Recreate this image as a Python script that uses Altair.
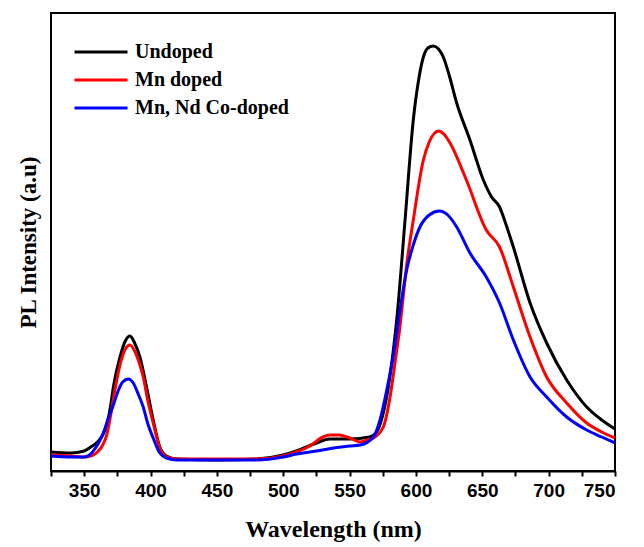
import altair as alt
import pandas as pd

# Wavelength (nm) / PL intensity (a.u.)
wl_undoped = [325, 340, 350, 355, 360, 364, 367, 370, 372, 377, 381, 384.5, 388, 392, 397, 402, 407, 412, 420,
              450, 480, 500, 510, 525, 535, 550, 565, 570.4, 575.4, 579.2, 583, 585.5, 591.8, 598, 602,
              605.6, 609, 613, 617, 620.6, 625, 630.7, 640.7, 650.8, 657, 663, 668, 673.4, 686, 698.5,
              713.6, 728.7, 740, 750]
pl_undoped = [19, 18, 20, 24, 29, 36, 46, 66, 84, 114, 130, 135, 128, 114, 84, 51, 24, 15, 12,
              11, 12, 16, 20, 28, 32, 32, 34, 39, 58, 84, 121, 151, 251, 351, 391,
              414, 423, 425, 422, 414, 396, 368, 331, 291, 274, 264, 246, 224, 168, 128,
              91, 64, 51, 42]

wl_mn = [325, 340, 350, 355, 360, 364, 367, 370, 372, 377, 381, 384.5, 388, 392, 394.5, 398, 402, 407, 412, 420,
         450, 480, 500, 510, 520, 530, 535, 542, 550, 558, 563, 568, 575.4, 580.5, 584.2, 588, 593, 598,
         605.6, 610, 617, 621, 625.7, 638, 653, 663, 673.4, 686, 698.5, 713.6, 728.7, 740, 750]
pl_mn = [16, 15, 14, 15, 19, 26, 36, 56, 72, 106, 122, 126, 120, 106, 94, 70, 48, 23, 14, 12,
         12, 12, 15, 19, 25, 34, 36, 36, 33, 29, 31, 33, 44, 74, 108, 145, 206, 251,
         311, 329, 340, 337, 328, 291, 241, 224, 184, 134, 94, 68, 48, 39, 33]

wl_co = [325, 340, 350, 354, 358, 362, 365, 368, 372, 375, 379, 383.3, 387, 391, 394.5, 398, 402, 407,
         412, 420, 450, 480, 500, 510, 525, 538, 550, 558, 568, 572.9, 578, 583, 588, 593, 598, 603,
         610, 617.6, 624, 630.7, 640.7, 653, 663, 673.4, 686, 698.5, 713.6, 728.7, 740, 750]
pl_co = [15, 14, 14, 16, 22, 31, 40, 52, 66, 78, 89, 92, 88, 76, 64, 47, 33, 18,
         13, 11, 11, 11, 14, 17, 20, 23, 25, 26, 34, 51, 81, 116, 161, 201, 226, 244,
         256, 260, 256, 244, 218, 194, 168, 131, 94, 74, 54, 41, 34, 28]

series = ["Undoped", "Mn doped", "Mn, Nd Co-doped"]
colors = ["#000000", "#ff0000", "#0000ff"]

rows = []
for name, xs, ys in [(series[0], wl_undoped, pl_undoped),
                     (series[1], wl_mn, pl_mn),
                     (series[2], wl_co, pl_co)]:
    for i, (x, y) in enumerate(zip(xs, ys)):
        rows.append({"Wavelength": x, "PL": y, "Sample": name, "order": i})
df = pd.DataFrame(rows)

tick_values = list(range(325, 751, 25))

chart = alt.Chart(df).mark_line(strokeWidth=3, interpolate="monotone").encode(
    x=alt.X("Wavelength:Q",
            scale=alt.Scale(domain=[325, 750], nice=False, zero=False),
            axis=alt.Axis(title="Wavelength (nm)", values=tick_values,
                          labelExpr="datum.value % 50 === 0 ? datum.label : ''",
                          grid=False, domainColor="black", domainWidth=2,
                          tickColor="black", tickWidth=2, tickSize=5,
                          labelFont="Liberation Sans", labelFontWeight="bold", labelFontSize=19,
                          labelColor="black", labelPadding=5,
                          titleFont="Liberation Serif", titleFontWeight="bold", titleFontSize=24,
                          titleColor="black", titlePadding=17)),
    y=alt.Y("PL:Q",
            scale=alt.Scale(domain=[0, 458], nice=False),
            axis=alt.Axis(title="PL Intensity (a.u)", labels=False, ticks=False, domain=False,
                          grid=False, titleFont="Liberation Serif", titleFontWeight="bold",
                          titleFontSize=23, titleColor="black", titlePadding=11)),
    color=alt.Color("Sample:N", scale=alt.Scale(domain=series, range=colors),
                    legend=alt.Legend(title=None, orient="none", legendX=22, legendY=25,
                                      symbolType="stroke", symbolSize=2809, symbolStrokeWidth=3,
                                      clipHeight=28, rowPadding=0, padding=0, labelOffset=6,
                                      labelFont="Liberation Serif", labelFontWeight="bold",
                                      labelFontSize=20, labelColor="black")),
    order="order:Q",
).properties(
    width=564, height=458,
    autosize=alt.AutoSizeParams(type="none"),
    padding={"left": 43, "top": 5, "right": 12, "bottom": 76},
).configure_view(stroke="black", strokeWidth=2)

chart.save("out.html", embed_options={"renderer": "svg", "actions": False})
